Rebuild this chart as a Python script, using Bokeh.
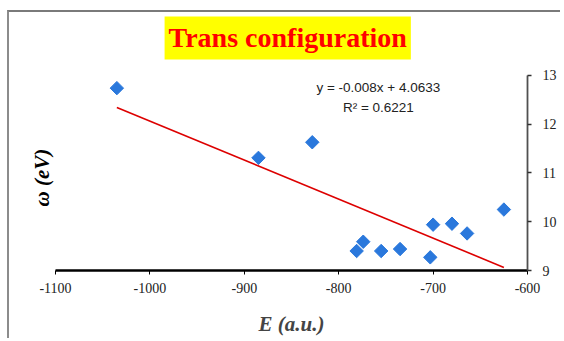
from bokeh.plotting import figure
from bokeh.models import Range1d, FixedTicker, Label, Title
from bokeh.embed import file_html
from bokeh.resources import INLINE
import numpy as np

# Data
E_values = [-1035, -885, -828, -781, -774, -755, -735, -703, -700, -680, -664, -625]
omega_values = [12.74, 11.31, 11.63, 9.40, 9.59, 9.40, 9.44, 9.27, 9.94, 9.96, 9.76, 10.25]
x_ticks = [-1100, -1000, -900, -800, -700, -600]
y_ticks = [9, 10, 11, 12, 13]
slope = -0.008
intercept = 4.0633
eq_text = "y = -0.008x + 4.0633"
r2_text = "R² = 0.6221"
title_text = "Trans configuration"
x_label = "E (a.u.)"
y_label = "ω (eV)"

# The frame is extended above the y axis' bounds so that the title sits inside it
p = figure(width=553, height=328, output_backend="svg", toolbar_location=None,
           x_range=Range1d(-1100, -600), y_range=Range1d(9, 14.25),
           y_axis_location="right",
           min_border_left=46, min_border_right=35, min_border_top=2, min_border_bottom=70)
p.margin = (10, 0, 0, 7)
p.styles = {"border-left": "2px solid #8c8c8c", "border-top": "2px solid #7a7a7a"}
p.outline_line_color = None
p.xgrid.grid_line_color = None
p.ygrid.grid_line_color = None

p.add_layout(Label(x=-854, y=13.77, text=title_text, text_align="center", text_baseline="middle",
                   text_font="Liberation Serif", text_font_size="28px", text_font_style="bold",
                   text_color="#ff0000", background_fill_color="#ffff00",
                   padding=dict(left=4, right=4, top=6, bottom=6)))

ylab = Title(text=y_label, align="left", offset=64, text_font="Liberation Serif",
             text_font_size="21px", text_font_style="bold italic", text_color="#000000",
             standoff=3)
p.add_layout(ylab, "left")

xa = p.xaxis[0]
xa.ticker = FixedTicker(ticks=x_ticks)
xa.major_label_overrides = {t: str(t) for t in x_ticks}
xa.axis_line_color = "#000000"
xa.axis_line_width = 2.5
xa.major_tick_line_color = "#000000"
xa.major_tick_line_width = 1
xa.major_tick_out = 4
xa.major_tick_in = 0
xa.minor_tick_line_color = None
xa.major_label_text_font = "Liberation Serif"
xa.major_label_text_font_size = "14px"
xa.major_label_text_color = "#222222"
xa.major_label_standoff = 8
xa.axis_label = x_label
xa.axis_label_text_font = "Liberation Serif"
xa.axis_label_text_font_size = "21px"
xa.axis_label_text_font_style = "bold italic"
xa.axis_label_standoff = 16

ya = p.yaxis[0]
ya.ticker = FixedTicker(ticks=y_ticks)
ya.bounds = (y_ticks[0], y_ticks[-1])
ya.major_label_overrides = {t: str(t) for t in y_ticks}
ya.axis_line_color = "#505050"
ya.axis_line_width = 1.8
ya.major_tick_line_color = "#303030"
ya.major_tick_line_width = 1.5
ya.major_tick_out = 4
ya.major_tick_in = 0
ya.minor_tick_line_color = None
ya.major_label_text_font = "Liberation Serif"
ya.major_label_text_font_size = "14px"
ya.major_label_text_color = "#222222"
ya.major_label_standoff = 11

# Trend line from the displayed equation
xs = np.array([min(E_values), max(E_values)], dtype=float)
p.line(xs, slope * xs + intercept, line_color="#dd0000", line_width=1.6)

p.scatter(E_values, omega_values, marker="square", angle=np.pi / 4, size=9.5,
          fill_color="#2a78dc", line_color="#2a78dc")

p.add_layout(Label(x=-758, y=12.75, text=eq_text, text_align="center", text_baseline="middle",
                   text_font="Liberation Sans", text_font_size="13.5px", text_color="#222222"))
p.add_layout(Label(x=-758, y=12.34, text=r2_text, text_align="center", text_baseline="middle",
                   text_font="Liberation Sans", text_font_size="13.5px", text_color="#222222"))

open("out.html", "w").write(file_html(p, INLINE))
